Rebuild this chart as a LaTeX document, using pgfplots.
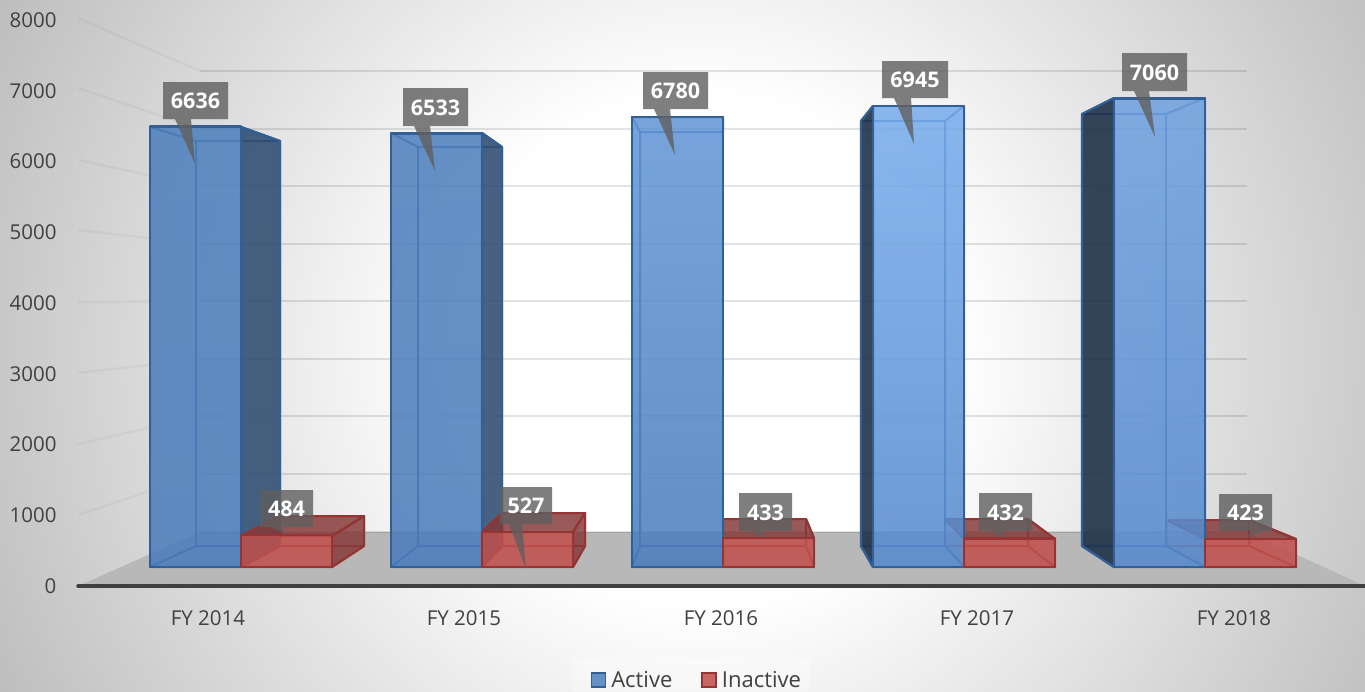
\documentclass[border=0pt]{standalone}
\usepackage{pgfplots}
\usepackage{fontspec}
\pgfplotsset{compat=1.18}
\setmainfont{Open Sans}

\definecolor{activefill}{RGB}{79,129,189}
\definecolor{activeedge}{RGB}{50,95,150}
\definecolor{inactivefill}{RGB}{192,80,77}
\definecolor{inactiveedge}{RGB}{150,52,52}
\definecolor{ticktext}{RGB}{64,64,64}
\definecolor{calloutgrey}{RGB}{95,95,95}
\definecolor{floorgrey}{RGB}{184,184,184}
\definecolor{sideblue}{RGB}{45,75,110}
\definecolor{sidenavy}{RGB}{30,48,70}
\definecolor{sidered}{RGB}{130,55,55}
\definecolor{blueA}{RGB}{78,128,190}
\definecolor{blueB}{RGB}{75,125,188}
\definecolor{blueC}{RGB}{100,150,215}
\definecolor{blueD}{RGB}{120,173,237}
\definecolor{blueE}{RGB}{85,138,205}
\definecolor{blueF}{RGB}{112,162,225}

% chart area background, white in the middle
\pgfdeclareradialshading{chartbg}{\pgfpoint{0bp}{0bp}}{rgb(0bp)=(1,1,1); rgb(8bp)=(1,1,1); rgb(25bp)=(0.74,0.74,0.74); rgb(50bp)=(0.74,0.74,0.74)}

% axes drawn in picture pixels, for the box faces that have no axis of their own
\pgfplotsset{
  full/.style={at={(0,0)},anchor=south west,scale only axis,width=1365pt,height=691pt,clip=false},
  pixels/.style={full,xmin=0,xmax=1365,ymin=0,ymax=691,y dir=reverse,hide axis},
  blueface/.style={fill=activefill,fill opacity=0.10,draw=activeedge,draw opacity=0.75,line width=2pt,line join=round},
  redface/.style={fill=inactivefill,fill opacity=0.12,draw=inactiveedge,draw opacity=0.7,line width=2pt,line join=round},
  bluedark/.style={fill=sideblue,fill opacity=0.85,draw=activeedge,line width=2.2pt,line join=round},
  bluedarker/.style={fill=sidenavy,fill opacity=0.88,draw=activeedge,line width=2.2pt,line join=round},
  reddark/.style={fill=sidered,fill opacity=0.78,draw=inactiveedge,line width=2pt,line join=round},
  wallline/.style={draw=black,draw opacity=0.11,line width=2.2pt},
  sideline/.style={draw=black,draw opacity=0.035,line width=2.2pt},
}

% style, front x0 x1 top, back x0 x1 top (front base 567, back base 546)
\newcommand{\shell}[7]{%
  \addplot[#1] coordinates {(#5,546)(#6,546)(#6,#7)(#5,#7)} --cycle;
  \addplot[#1] coordinates {(#2,567)(#3,567)(#6,546)(#5,546)} --cycle;
  \addplot[#1] coordinates {(#2,#4)(#3,#4)(#6,#7)(#5,#7)} --cycle;
  \addplot[#1] coordinates {(#2,#4)(#5,#7)(#5,546)(#2,567)} --cycle;
  \addplot[#1] coordinates {(#3,#4)(#6,#7)(#6,546)(#3,567)} --cycle;
}
% style, front x, front top, back x, back top
\newcommand{\side}[5]{\addplot[#1] coordinates {(#2,#3)(#4,#5)(#4,546)(#2,567)} --cycle;}
% left, top, right, bottom, pointer left, pointer right, tip x, tip y
\newcommand{\callout}[8]{\addplot[fill=calloutgrey,fill opacity=0.8,draw=none] coordinates {(#1,#2)(#3,#2)(#3,#4)(#6,#4)(#7,#8)(#5,#4)(#1,#4)} --cycle;}

\begin{document}
\begin{tikzpicture}
\useasboundingbox (0,0) rectangle (1365pt,691pt);
\begin{scope}
  \clip (0,0) rectangle (1365pt,691pt);
  \shade[shading=chartbg] (700pt,341pt) circle (790pt);
\end{scope}

% legend panel, floor, walls, and the faces behind the front of each bar
\begin{axis}[pixels]
  \addplot[fill=white,fill opacity=0.3,draw=none] coordinates {(572,658)(810,658)(810,691)(572,691)} --cycle;
  \addplot[fill=floorgrey,draw=none] coordinates {(78,586)(200,532)(1247,532)(1365,586)} --cycle;
  \addplot[wallline] coordinates {(200,71)(1247,71)};
  \addplot[wallline] coordinates {(200,129)(1247,129)};
  \addplot[wallline] coordinates {(200,186)(1247,186)};
  \addplot[wallline] coordinates {(200,244)(1247,244)};
  \addplot[wallline] coordinates {(200,301)(1247,301)};
  \addplot[wallline] coordinates {(200,359)(1247,359)};
  \addplot[wallline] coordinates {(200,416)(1247,416)};
  \addplot[wallline] coordinates {(200,474)(1247,474)};
  \addplot[wallline] coordinates {(200,532)(1247,532)};
  \addplot[sideline] coordinates {(78,18)(200,71)};
  \addplot[sideline] coordinates {(78,88)(200,129)};
  \addplot[sideline] coordinates {(78,160)(200,186)};
  \addplot[sideline] coordinates {(78,230)(200,244)};
  \addplot[sideline] coordinates {(78,302)(200,301)};
  \addplot[sideline] coordinates {(78,373)(200,359)};
  \addplot[sideline] coordinates {(78,444)(200,416)};
  \addplot[sideline] coordinates {(78,515)(200,474)};

  % FY 2014
  \shell{blueface}{150}{241}{127}{196}{280}{141}
  \side{bluedark}{241}{127}{280}{141}
  \shell{redface}{241}{332}{536}{280}{364}{516}
  \addplot[reddark] coordinates {(241,536)(332,536)(364,516)(280,516)} --cycle;
  \side{reddark}{332}{536}{364}{516}
  % FY 2015
  \shell{blueface}{391}{482}{133}{418}{502}{147}
  \side{bluedark}{482}{133}{502}{147}
  \shell{redface}{482}{573}{532}{502}{585}{513}
  \addplot[reddark] coordinates {(482,532)(573,532)(585,513)(502,513)} --cycle;
  \side{reddark}{573}{532}{585}{513}
  % FY 2016
  \shell{blueface}{632}{723}{117}{640}{723}{132}
  \shell{redface}{723}{814}{538}{723}{806}{519}
  \addplot[reddark] coordinates {(723,538)(814,538)(806,519)(723,519)} --cycle;
  % FY 2017
  \shell{redface}{964}{1055}{539}{945}{1028}{519}
  \addplot[reddark] coordinates {(964,539)(1055,539)(1028,519)(945,519)} --cycle;
  \shell{blueface}{873}{964}{106}{861}{945}{121}
  \side{bluedarker}{873}{106}{861}{121}
  % FY 2018
  \shell{redface}{1205}{1296}{539}{1166}{1249}{520}
  \addplot[reddark] coordinates {(1205,539)(1296,539)(1249,520)(1166,520)} --cycle;
  \shell{blueface}{1114}{1205}{98}{1082}{1166}{114}
  \side{bluedarker}{1114}{98}{1082}{114}
\end{axis}

% bar fronts, from the values themselves
\begin{axis}[full,xmin=-1,xmax=4.664,ymin=-1869,ymax=8545.6,hide axis,
    active/.style n args={2}{ybar,bar width=91pt,bar shift=-45.5pt,top color=#1,bottom color=#2,fill opacity=0.85,draw=activeedge,line width=2.6pt,line join=round},
    inactive/.style={ybar,bar width=91pt,bar shift=45.5pt,fill=inactivefill,fill opacity=0.85,draw=inactiveedge,line width=2.4pt,line join=round}]
  \addplot[active={blueA}{blueB}] coordinates {(0,6636)};
  \addplot[active={blueA}{blueB}] coordinates {(1,6533)};
  \addplot[active={blueC}{blueB}] coordinates {(2,6780)};
  \addplot[active={blueD}{blueE}] coordinates {(3,6945)};
  \addplot[active={blueF}{blueE}] coordinates {(4,7060)};
  \addplot[inactive] coordinates {(0,484) (1,527) (2,433) (3,432) (4,423)};
\end{axis}

% value axis, category labels, base line and legend
\begin{axis}[full,xmin=0,xmax=1365,ymin=-1484.1,ymax=8282.7,
    axis line style={draw=none},major tick length=0pt,
    ytick={0,1000,2000,3000,4000,5000,6000,7000,8000},
    xtick={208,464,721,977,1234},
    xticklabels={FY 2014,FY 2015,FY 2016,FY 2017,FY 2018},
    /pgf/number format/assume math mode=true,
    /pgf/number format/1000 sep={},
    scaled y ticks=false,
    tick label style={font=\fontsize{20.5}{24}\selectfont,text=ticktext},
    yticklabel style={anchor=east,xshift=60pt},
    xticklabel style={anchor=center,yshift=73pt},
    legend columns=2,
    legend style={at={(0.5105,0.0159)},anchor=center,draw=none,fill=none,
      font=\fontsize{22}{24}\selectfont,text=ticktext,inner sep=0pt,
      /tikz/column 1/.style={column sep=3pt},
      /tikz/column 2/.style={column sep=27pt},
      /tikz/column 3/.style={column sep=3pt}},
    legend image code/.code={\draw[#1,line width=1.6pt] (0pt,-7pt) rectangle (14pt,7pt);}]
  \addplot[draw=ticktext,line width=3.5pt,line cap=round,forget plot] coordinates {(78,0)(1365,0)};
  \addlegendimage{fill=activefill!88!white,draw=activeedge}
  \addlegendentry{Active}
  \addlegendimage{fill=inactivefill!88!white,draw=inactiveedge}
  \addlegendentry{Inactive}
\end{axis}

% data labels with their pointers
\begin{axis}[pixels]
  \callout{163}{82}{228}{119}{175}{191}{195}{164}
  \callout{403}{88}{468}{126}{414}{430}{435}{171}
  \callout{643}{72}{708}{109}{654}{670}{675}{155}
  \callout{882}{61}{948}{98}{894}{911}{914}{144}
  \callout{1122}{53}{1187}{91}{1134}{1149}{1155}{137}
  \callout{260}{490}{313}{527}{270}{282}{286}{534}
  \callout{500}{487}{552}{524}{509}{522}{526}{569}
  \callout{739}{493}{792}{531}{750}{762}{765}{538}
  \callout{979}{493}{1032}{531}{990}{1002}{1005}{538}
  \callout{1219}{494}{1272}{531}{1252}{1263}{1246}{538}
  \addplot[draw=none,point meta=explicit symbolic,nodes near coords,
    every node near coord/.append style={anchor=center,inner sep=0pt,text=white,font=\bfseries\fontsize{21.5}{24}\selectfont}]
    table[meta=label] {
    x y label
    195.5 101 6636
    435.5 107.5 6533
    675.5 91 6780
    915 80 6945
    1154.5 72.5 7060
    286.5 509 484
    526 506 527
    765.5 512.5 433
    1005.5 512.5 432
    1245.5 513 423
  };
\end{axis}
\end{tikzpicture}
\end{document}
